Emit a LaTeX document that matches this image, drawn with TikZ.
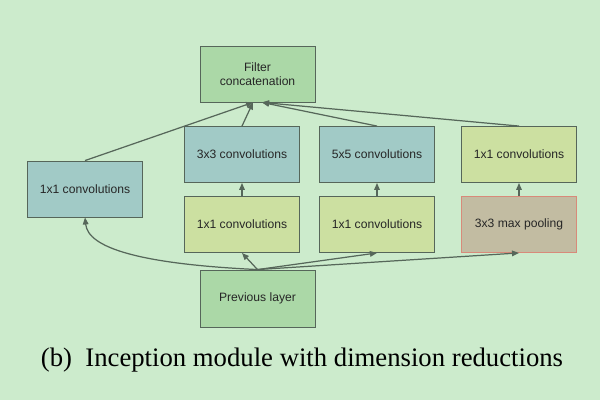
\documentclass[tikz,border=0pt]{standalone}
\usepackage{fontspec}
\setmainfont{Liberation Serif}
\setsansfont{Liberation Sans}
\usepackage{tikz}
\usetikzlibrary{arrows.meta, positioning}
\usepackage{xcolor}
\definecolor{pagegreen}{HTML}{CCEBCC}
\definecolor{layergreen}{HTML}{ABD8A7}
\definecolor{convteal}{HTML}{A1CAC6}
\definecolor{reduceyellow}{HTML}{CCE0A1}
\definecolor{poolbrown}{HTML}{C2BCA2}
\definecolor{poolred}{HTML}{D88A7A}
\definecolor{edgegray}{HTML}{56665A}
\definecolor{arrowgray}{HTML}{56675A}
\tikzset{
  every node/.style={font=\sffamily\fontsize{6.9}{8.1}\selectfont, text=black!85},
  layer/.style={draw=edgegray, line width=0.5pt, minimum width=2.3cm, minimum height=1.12cm, align=center, inner sep=0pt},
  flow/.style={draw=arrowgray, line width=0.7pt, -{Triangle[length=4pt, width=3.2pt]}}
}

\begin{document}
\begin{tikzpicture}[x=0.02cm, y=-0.02cm]
    \fill[pagegreen] (0, 0) rectangle (600, 400);
    \useasboundingbox (0, 0) rectangle (600, 400);
    \node[layer, fill=layergreen] (concat) at (257.5, 74) {Filter\\concatenation};
    \node[layer, fill=convteal] (onebyone) at (85, 189) {1x1 convolutions};
    \node[layer, fill=convteal] (threebythree) at (242, 154.5) {3x3 convolutions};
    \node[layer, fill=reduceyellow] (reducethree) at (242, 224.5) {1x1 convolutions};
    \node[layer, fill=convteal] (fivebyfive) at (377, 154.5) {5x5 convolutions};
    \node[layer, fill=reduceyellow] (reducefive) at (377, 224.5) {1x1 convolutions};
    \node[layer, fill=reduceyellow] (poolproj) at (519, 154.5) {1x1 convolutions};
    \node[layer, fill=poolbrown, draw=poolred] (maxpool) at (519, 224.5) {3x3 max pooling};
    \node[layer, fill=layergreen, minimum height=1.14cm] (previous) at (257.5, 298.5) {Previous layer};
    \draw[flow] (onebyone.north) -- ([xshift=-0.09cm]concat.south);
    \draw[flow] (threebythree.north) -- ([xshift=-0.09cm]concat.south);
    \draw[flow] (fivebyfive.north) -- ([xshift=0.09cm]concat.south);
    \draw[flow] (poolproj.north) -- ([xshift=0.09cm]concat.south);
    \draw[flow] (reducethree) -- (threebythree);
    \draw[flow] (reducefive) -- (fivebyfive);
    \draw[flow] (maxpool) -- (poolproj);
    \draw[flow] (previous.north) .. controls (140, 264) and (88, 248) .. (onebyone.south);
    \draw[flow] (previous.north) -- (reducethree.south);
    \draw[flow] (previous.north) -- (reducefive.south);
    \draw[flow] (previous.north) -- (maxpool.south);
    \node[font=\rmfamily\fontsize{15.2}{18}\selectfont, text=black, anchor=base] (caption) at (302, 366) {(b)\hspace{0.5em}Inception module with dimension reductions};
  \end{tikzpicture}
\end{document}
